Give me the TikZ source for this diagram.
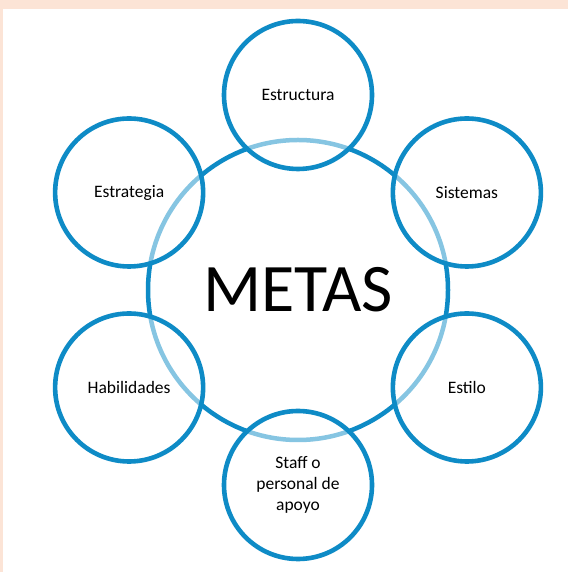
\documentclass[tikz,border=0pt]{standalone}
\usepackage{fontspec}
\setmainfont{Carlito}
\definecolor{metablue}{RGB}{14,139,198}
\definecolor{peach}{RGB}{252,228,214}

\begin{document}
\begin{tikzpicture}[x=1pt,y=1pt,
    goal/.style={circle, draw=metablue, line width=4.5pt, fill=white,
      minimum size=300pt, inner sep=0pt, font=\fontsize{68}{72}\selectfont},
    satellite/.style={circle, draw=metablue, line width=4.6pt, fill=white,
      fill opacity=0.5, text opacity=1, minimum size=148pt, inner sep=0pt,
      align=center, font=\fontsize{17.5}{21}\selectfont}]
    % Draw the background
    \fill[peach] (0,0) rectangle (568,572);
    \fill[white] (3,0) rectangle (568,563);
    \useasboundingbox (0,0) rectangle (568,572);
    % Draw the goal circle
    \node[goal] (metas) at (298,282) {METAS};
    % Draw the surrounding circles
    \foreach \ang/\name/\txt in {90/estructura/Estructura, 30/sistemas/Sistemas,
        -30/estilo/Estilo, -90/staff/{Staff o\\personal de\\apoyo},
        -150/habilidades/Habilidades, 150/estrategia/Estrategia}
      \node[satellite] (\name) at ([shift={(\ang:195)}]metas.center) {\txt};
\end{tikzpicture}
\end{document}
